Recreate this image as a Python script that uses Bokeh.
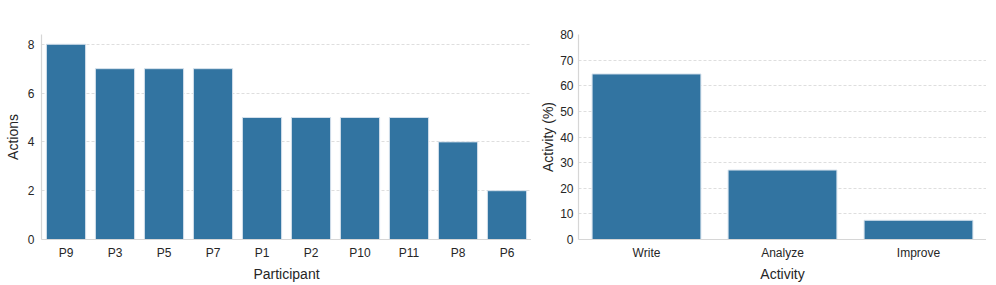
from bokeh.plotting import figure
from bokeh.layouts import row
from bokeh.models import ColumnDataSource, FixedTicker
from bokeh.embed import file_html
from bokeh.resources import INLINE

participants = ["P9", "P3", "P5", "P7", "P1", "P2", "P10", "P11", "P8", "P6"]
actions = [8, 7, 7, 7, 5, 5, 5, 5, 4, 2]
activities = ["Write", "Analyze", "Improve"]
activity_pct = [64.6, 27.1, 7.5]
left_ticks = [0, 2, 4, 6, 8]
right_ticks = [0, 10, 20, 30, 40, 50, 60, 70, 80]

BAR = "#3274a1"
EDGE = "#d5e1ec"
FONT = "Liberation Sans"
TXT = "#262626"


def style(p, ticks, label_standoff, title_standoff):
    p.xgrid.grid_line_color = None
    p.ygrid.grid_line_color = "#dedede"
    p.ygrid.grid_line_dash = "3 2"
    p.ygrid.grid_line_width = 1
    p.outline_line_color = None
    p.yaxis.ticker = FixedTicker(ticks=ticks)
    for ax in (p.xaxis, p.yaxis):
        ax.axis_line_color = "#d6d6d6"
        ax.axis_line_width = 1.2
        ax.major_tick_line_color = None
        ax.minor_tick_line_color = None
        ax.major_tick_out = 0
        ax.major_tick_in = 0
        ax.minor_tick_out = 0
        ax.minor_tick_in = 0
        ax.major_label_text_font = FONT
        ax.major_label_text_font_size = "12px"
        ax.major_label_text_color = TXT
        ax.axis_label_text_font = FONT
        ax.axis_label_text_font_size = "14px"
        ax.axis_label_text_font_style = "normal"
        ax.axis_label_text_color = TXT
    p.xaxis.major_label_standoff = 6
    p.yaxis.major_label_standoff = label_standoff
    p.xaxis.axis_label_standoff = 3
    p.yaxis.axis_label_standoff = title_standoff
    p.x_range.range_padding = 0
    p.y_range.start = 0


src1 = ColumnDataSource(dict(x=participants, y=actions))
p1 = figure(x_range=participants, y_range=(0, 8.4), output_backend="svg",
            toolbar_location=None, frame_width=490, frame_height=205,
            min_border_left=41, min_border_right=0, min_border_top=34,
            min_border_bottom=36)
p1.vbar(x="x", top="y", width=0.8, source=src1, fill_color=BAR,
        line_color=EDGE, line_width=1)
p1.xaxis.axis_label = "Participant"
p1.yaxis.axis_label = "Actions"
style(p1, left_ticks, 7, 4)

src2 = ColumnDataSource(dict(x=activities, y=activity_pct))
p2 = figure(x_range=activities, y_range=(0, 80), output_backend="svg",
            toolbar_location=None, frame_width=408, frame_height=205,
            min_border_left=47, min_border_right=0, min_border_top=34,
            min_border_bottom=36)
p2.vbar(x="x", top="y", width=0.8, source=src2, fill_color=BAR,
        line_color=EDGE, line_width=1)
p2.xaxis.axis_label = "Activity"
p2.yaxis.axis_label = "Activity (%)"
style(p2, right_ticks, 5, 1)

layout = row(p1, p2, spacing=0)
open("out.html", "w").write(file_html(layout, INLINE))
